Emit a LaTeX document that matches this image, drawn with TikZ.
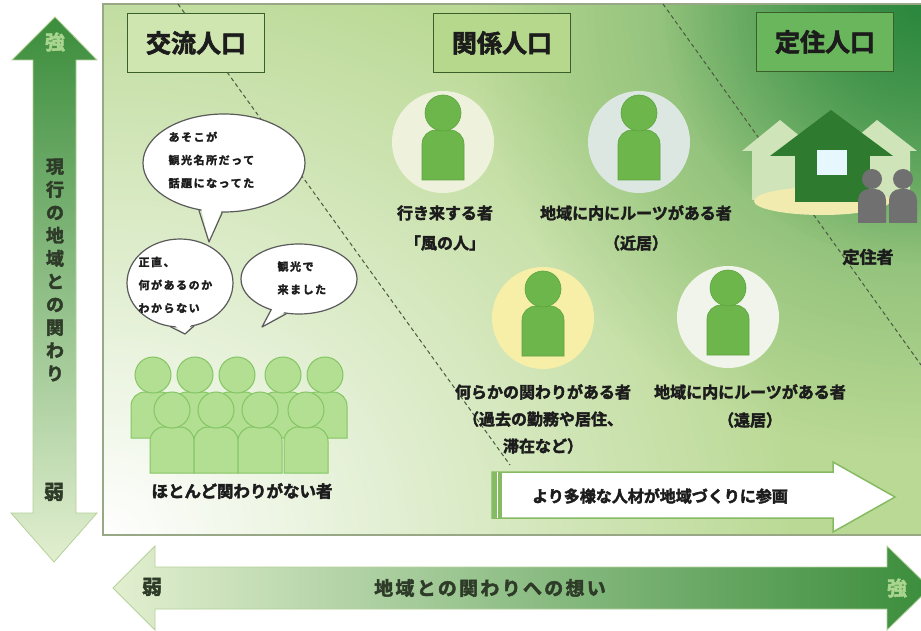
\documentclass[tikz,border=0pt]{standalone}
\usepackage{fontspec}
\setmainfont{Noto Sans CJK JP}[BoldFont={Noto Sans CJK JP Bold}, BoldFeatures={FakeBold=2.4}]
\usetikzlibrary{shapes.geometric,fadings,calc}
\tikzfading[name=softglow, inner color=transparent!0, outer color=transparent!100]
\definecolor{fieldgreen}{HTML}{BAD994}
\definecolor{deepgreen}{HTML}{25843A}
\definecolor{boxline}{HTML}{3A5F2B}
\definecolor{ink}{HTML}{1C1C1C}
\definecolor{divline}{HTML}{4A5A40}
\definecolor{frameline}{HTML}{98A886}
\definecolor{figgreen}{HTML}{6DB64B}
\definecolor{figline}{HTML}{5DA33F}
\definecolor{crowdfill}{HTML}{B2DF92}
\definecolor{crowdline}{HTML}{84C564}
\definecolor{bubbleline}{HTML}{5A5A5A}
\definecolor{ringA}{HTML}{EEF2DC}
\definecolor{ringB}{HTML}{DCE7E2}
\definecolor{ringC}{HTML}{F7EEA8}
\definecolor{ringD}{HTML}{F1F4EA}
\definecolor{houseback}{HTML}{CFE4B8}
\definecolor{housedark}{HTML}{2E7A2F}
\definecolor{ground}{HTML}{F2EBB0}
\definecolor{resident}{HTML}{707070}
\definecolor{arrowdark}{HTML}{3B8D3C}
\definecolor{arrowmid}{HTML}{8DC66C}
\definecolor{arrowpale}{HTML}{E2EFD0}
\definecolor{arrowedge}{HTML}{B5D19A}
\definecolor{paletext}{HTML}{A9D58E}
\definecolor{darktext}{HTML}{2E3B28}
\definecolor{flowedge}{HTML}{86BB63}
\newcommand\fsz[2]{\fontsize{#1}{#2}\selectfont}
\newcommand\spaced[1]{\addfontfeatures{LetterSpace=#1}}
\tikzset{
  titlebox/.style={draw=boxline, line width=1.8pt, minimum width=137pt,
    minimum height=59pt, inner sep=0pt, font=\fsz{25}{28}\bfseries, text=ink},
  ring/.style={circle, minimum size=102pt, inner sep=0pt},
  caption/.style={font=\fsz{16}{30}\bfseries, text=ink, align=center},
  bubble/.style={ellipse, draw=bubbleline, line width=1.2pt, fill=white, inner sep=0pt},
  bubbleedge/.style={draw=bubbleline, line width=1.2pt, line join=round},
  bubbletext/.style={font=\fsz{11}{23}\bfseries\spaced{14}, align=left, anchor=west, text=ink},
  divider/.style={draw=divline, line width=1pt, dash pattern=on 4pt off 3pt},
  personfig/.pic={
    \path[fill=figgreen, draw=figline, line width=0.6pt]
      (-21,38) [rounded corners=14pt] -- (-21,-12) -- (21,-12) [sharp corners] -- (21,38) -- cycle;
    \path[fill=figgreen, draw=figline, line width=0.6pt] (0,-29) circle (18);
  },
  crowdfig/.pic={
    \path[fill=crowdfill, draw=crowdline, line width=1pt]
      (-22,63) [rounded corners=14pt] -- (-22,17) -- (22,17) [sharp corners] -- (22,63) -- cycle;
    \path[fill=crowdfill, draw=crowdline, line width=1pt] (0,0) circle (18);
  },
  residentfig/.pic={
    \fill[resident] (-14,44) [rounded corners=11pt] -- (-14,10) -- (14,10) [sharp corners] -- (14,44) -- cycle;
    \fill[resident] (0,0) circle (10);
  }
}
\begin{document}
\begin{tikzpicture}[x=1pt,y=-1pt]
\useasboundingbox (0,0) rectangle (921,631);
\fill[white] (0,0) rectangle (921,631);
\clip (0,0) rectangle (921,631);

% ---- main field with its green glow ----
\begin{scope}
  \clip (103,4) rectangle (930,535);
  \fill[fieldgreen] (103,4) rectangle (930,535);
  \fill[white, path fading=softglow] (103,535) ellipse (700 and 600);
  \fill[deepgreen, path fading=softglow, opacity=0.6] (921,4) circle (450);
  \fill[deepgreen, path fading=softglow, opacity=0.9] (921,4) circle (260);
\end{scope}
\draw[frameline, line width=1.2pt] (930,4) -- (103,4) -- (103,535) -- (930,535);

% ---- dashed borders between the groups ----
\coordinate (d1a) at (178,4);
\coordinate (d1b) at (510,465);
\coordinate (d2a) at (663,4);
\coordinate (d2b) at (921,365);
\draw[divider] (d1a) -- (d1b);
\draw[divider] (d2a) -- (d2b);

% ---- headings ----
\node[titlebox, fill={rgb,255:red,208;green,230;blue,176}] (t1) at (196,43) {交流人口};
\node[titlebox, fill={rgb,255:red,182;green,216;blue,140}] (t2) at (502,43) {関係人口};
\node[titlebox, fill={rgb,255:red,106;green,182;blue,92}] (t3) at (825,42) {定住人口};

% ---- related people ----
\node[ring, fill=ringA] (c1) at (443,142) {};
\node[ring, fill=ringB] (c2) at (639,142) {};
\node[ring, fill=ringC] (c3) at (543,318) {};
\node[ring, fill=ringD] (c4) at (728,317) {};
\pic at (c1) {personfig};
\pic at (c2) {personfig};
\pic at (c3) {personfig};
\pic at (c4) {personfig};

\node[caption] (l1) at (445,228) {行き来する者\\「風の人」};
\node[caption] (l2) at (636,228) {地域に内にルーツがある者\\（近居）};
\node[caption, font=\fsz{16}{27}\bfseries] (l3) at (543,419) {何らかの関わりがある者\\（過去の勤務や居住、\\滞在など）};
\node[caption, font=\fsz{16}{28}\bfseries] (l4) at (750,406) {地域に内にルーツがある者\\（遠居）};

% ---- settled residents: house ----
\fill[houseback] (742,151) -- (780,120) -- (818,151) -- (808,151) -- (808,200) -- (752,200) -- (752,151) -- cycle;
\fill[houseback] (840,151) -- (877,120) -- (917,151) -- (910,151) -- (910,200) -- (852,200) -- (852,151) -- cycle;
\fill[ground] (822,201) ellipse (68 and 14);
\fill[housedark] (795,150) rectangle (870,202);
\fill[housedark] (770,156) -- (831,110) -- (893,156) -- cycle;
\fill[white!90!cyan] (817,150) rectangle (847,175);
\pic at (872,179) {residentfig};
\pic at (903,179) {residentfig};
\node[caption, font=\fsz{17}{20}\bfseries] (l5) at (868,257) {定住者};

% ---- visitors: speech bubbles ----
\node[bubble, minimum width=162pt, minimum height=98pt] (b1) at (224,163) {};
\coordinate (b1tip) at (209,242);
\fill[white] ($(b1.-118)!4pt!(b1.center)$) -- (b1tip) -- ($(b1.-92)!4pt!(b1.center)$) -- cycle;
\draw[bubbleedge] (b1.-118) -- (b1tip) -- (b1.-92);
\node[bubbletext] (b1t) at (165,160) {あそこが\\観光名所だって\\話題になってた};

\node[bubble, minimum width=106pt, minimum height=88pt] (b2) at (180,283) {};
\coordinate (b2tip) at (185,334);
\fill[white] ($(b2.-102)!4pt!(b2.center)$) -- (b2tip) -- ($(b2.-72)!4pt!(b2.center)$) -- cycle;
\draw[bubbleedge] (b2.-102) -- (b2tip) -- (b2.-72);
\node[bubbletext] (b2t) at (135,285) {正直、\\何があるのか\\わからない};

\node[bubble, minimum width=116pt, minimum height=70pt] (b3) at (299,279) {};
\coordinate (b3tip) at (262,327);
\fill[white] ($(b3.-132)!4pt!(b3.center)$) -- (b3tip) -- ($(b3.-110)!4pt!(b3.center)$) -- cycle;
\draw[bubbleedge] (b3.-132) -- (b3tip) -- (b3.-110);
\node[bubbletext] (b3t) at (274,278) {観光で\\来ました};

% ---- crowd ----
\foreach \x in {153,195,237,283,325} { \pic at (\x,375) {crowdfig}; }
\foreach \x in {172,216,260,306} { \pic at (\x,410) {crowdfig}; }
\node[caption, font=\fsz{16.5}{20}\bfseries] (l6) at (242,491) {ほとんど関わりがない者};

% ---- arrow: more people joining ----
\path[fill=white, draw=flowedge, line width=1.5pt, line join=miter]
  (492,472) -- (833,472) -- (833,462) -- (895,497) -- (833,532) -- (833,518) -- (492,518) -- cycle;
\fill[flowedge] (492,472) rectangle (502,518);
\draw[white, line width=1pt] (497,472) -- (497,518);
\node[font=\fsz{16}{18}\bfseries, text=ink] (flow) at (660,496) {より多様な人材が地域づくりに参画};

% ---- vertical axis arrow ----
\shade[top color=arrowdark, middle color=arrowmid, bottom color=arrowpale, draw=arrowedge, line width=0.8pt]
  (55,17) -- (97,60) -- (76,60) -- (76,513) -- (97,513) -- (54,562)
  -- (11,513) -- (33,513) -- (33,60) -- (12,60) -- cycle;
\node[font=\fsz{20}{22}\bfseries, text=paletext] (vstrong) at (55,42) {強};
\node[font=\fsz{18}{23}\bfseries, text=darktext, align=center] (vtitle) at (55,270)
  {現\\行\\の\\地\\域\\と\\の\\関\\わ\\り};
\node[font=\fsz{20}{22}\bfseries, text=darktext] (vweak) at (54,492) {弱};

% ---- horizontal axis arrow ----
\shade[left color=arrowpale, middle color=arrowmid, right color=arrowdark, draw=arrowedge, line width=0.8pt]
  (113,588) -- (155,546) -- (155,567) -- (887,567) -- (887,546) -- (930,588)
  -- (887,630) -- (887,609) -- (155,609) -- (155,630) -- cycle;
\node[font=\fsz{20}{22}\bfseries, text=darktext] (hweak) at (152,587) {弱};
\node[font=\fsz{19}{20}\bfseries\spaced{12}, text=darktext] (htitle) at (490,588) {地域との関わりへの想い};
\node[font=\fsz{20}{22}\bfseries, text=paletext] (hstrong) at (897,588) {強};
\end{tikzpicture}
\end{document}
